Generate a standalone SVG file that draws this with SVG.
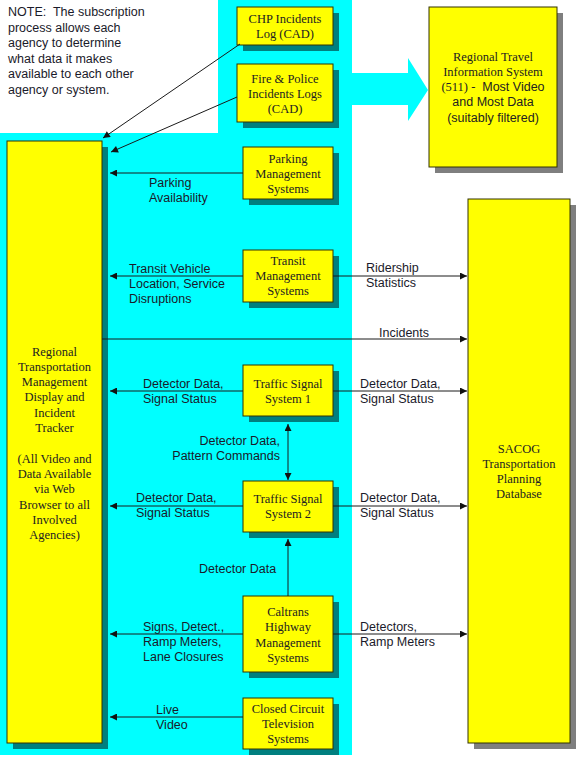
<svg xmlns="http://www.w3.org/2000/svg" width="576" height="768" viewBox="0 0 576 768">
<style>
.box{fill:#ffff00;stroke:#333300;stroke-width:1}
.sh{fill:#000;fill-opacity:0.5}
.bt{font-family:"Liberation Serif","Times New Roman",serif;font-size:12.5px;fill:#222;text-anchor:middle}
.st{font-family:"Liberation Sans",Arial,sans-serif;font-size:12.5px;fill:#1a1a2a}
.sm{font-family:"Liberation Sans",Arial,sans-serif;font-size:12.5px;fill:#222;text-anchor:middle}
.ln{stroke:#1a1a1a;stroke-width:1;fill:none}
.pre{white-space:pre}
</style>
<defs>
<marker id="ah" viewBox="0 0 10 10" refX="10" refY="5" markerWidth="8" markerHeight="7" markerUnits="userSpaceOnUse" orient="auto-start-reverse">
<path d="M0,0 L10,5 L0,10 z" fill="#111"/>
</marker>
</defs>
<rect width="576" height="768" fill="#fff"/>
<g id="background">
<polygon points="218,0 352,0 352,755 0,755 0,133 218,133" fill="#00ffff"/>
<polygon points="352,73 408,73 408,58 428,90 408,121 408,105 352,105" fill="#00ffff"/>
</g>
<g id="note">
<text class="st pre" x="8" y="16" xml:space="preserve">NOTE:  The subscription</text>
<text class="st" x="8" y="31.5">process allows each</text>
<text class="st" x="8" y="47">agency to determine</text>
<text class="st" x="8" y="62.5">what data it makes</text>
<text class="st" x="8" y="78">available to each other</text>
<text class="st" x="8" y="93.5">agency or system.</text>
</g>
<g id="rtmd">
<rect class="sh" x="13" y="147" width="95" height="602"/>
<rect class="box" x="7" y="141" width="95" height="602"/>
<text class="bt" x="54.5" y="355.5">Regional</text>
<text class="bt" x="54.5" y="370.8">Transportation</text>
<text class="bt" x="54.5" y="386.1">Management</text>
<text class="bt" x="54.5" y="401.4">Display and</text>
<text class="bt" x="54.5" y="416.7">Incident</text>
<text class="bt" x="54.5" y="432">Tracker</text>
<text class="bt" x="54.5" y="462.6">(All Video and</text>
<text class="bt" x="54.5" y="477.9">Data Available</text>
<text class="bt" x="54.5" y="493.2">via Web</text>
<text class="bt" x="54.5" y="508.5">Browser to all</text>
<text class="bt" x="54.5" y="523.8">Involved</text>
<text class="bt" x="54.5" y="539.1">Agencies)</text>
</g>
<g id="chp">
<rect class="sh" x="243" y="13" width="96" height="38"/>
<rect class="box" x="237" y="7" width="96" height="38"/>
<text class="bt" x="285" y="22.5">CHP Incidents</text>
<text class="bt" x="285" y="37.5">Log (CAD)</text>
</g>
<g id="fire">
<rect class="sh" x="243" y="70" width="96" height="58"/>
<rect class="box" x="237" y="64" width="96" height="58"/>
<text class="bt" x="285" y="82.5">Fire &amp; Police</text>
<text class="bt" x="285" y="97.5">Incidents Logs</text>
<text class="bt" x="285" y="112.5">(CAD)</text>
</g>
<g id="rtis">
<rect class="sh" x="435" y="13" width="128" height="160"/>
<rect class="box" x="429" y="7" width="128" height="160"/>
<text class="bt" x="493" y="60.5">Regional Travel</text>
<text class="bt" x="493" y="75.5">Information System</text>
<text class="sm pre" x="493" y="91" xml:space="preserve"><tspan font-family="Liberation Serif,serif">(511) -</tspan>  Most Video</text>
<text class="sm" x="493" y="106">and Most Data</text>
<text class="sm" x="493" y="121.5">(suitably filtered)</text>
</g>
<g id="parking">
<rect class="sh" x="249" y="153" width="90" height="52"/>
<rect class="box" x="243" y="147" width="90" height="52"/>
<text class="bt" x="288" y="163">Parking</text>
<text class="bt" x="288" y="178">Management</text>
<text class="bt" x="288" y="193">Systems</text>
</g>
<g id="transit">
<rect class="sh" x="249" y="256" width="90" height="52"/>
<rect class="box" x="243" y="250" width="90" height="52"/>
<text class="bt" x="288" y="265">Transit</text>
<text class="bt" x="288" y="280">Management</text>
<text class="bt" x="288" y="295">Systems</text>
</g>
<g id="tss1">
<rect class="sh" x="249" y="371" width="90" height="51"/>
<rect class="box" x="243" y="365" width="90" height="51"/>
<text class="bt" x="288" y="387.5">Traffic Signal</text>
<text class="bt" x="288" y="402.5">System 1</text>
</g>
<g id="tss2">
<rect class="sh" x="249" y="487" width="90" height="51"/>
<rect class="box" x="243" y="481" width="90" height="51"/>
<text class="bt" x="288" y="502.5">Traffic Signal</text>
<text class="bt" x="288" y="517.5">System 2</text>
</g>
<g id="caltrans">
<rect class="sh" x="249" y="602" width="90" height="76"/>
<rect class="box" x="243" y="596" width="90" height="76"/>
<text class="bt" x="288" y="615.5">Caltrans</text>
<text class="bt" x="288" y="631">Highway</text>
<text class="bt" x="288" y="646.5">Management</text>
<text class="bt" x="288" y="662">Systems</text>
</g>
<g id="cctv">
<rect class="sh" x="249" y="704" width="90" height="51"/>
<rect class="box" x="243" y="698" width="90" height="51"/>
<text class="bt" x="288" y="713">Closed Circuit</text>
<text class="bt" x="288" y="728">Television</text>
<text class="bt" x="288" y="743">Systems</text>
</g>
<g id="sacog">
<rect class="sh" x="474" y="205" width="102" height="544"/>
<rect class="box" x="468" y="199" width="102" height="544"/>
<text class="bt" x="519" y="452.5">SACOG</text>
<text class="bt" x="519" y="467.5">Transportation</text>
<text class="bt" x="519" y="482.5">Planning</text>
<text class="bt" x="519" y="497.5">Database</text>
</g>
<g id="connectors">
<line class="ln" x1="240" y1="44" x2="103" y2="138" marker-end="url(#ah)"/>
<line class="ln" x1="237" y1="97" x2="111" y2="152" marker-end="url(#ah)"/>
<line class="ln" x1="243" y1="173" x2="110" y2="173" marker-end="url(#ah)"/>
<line class="ln" x1="243" y1="276" x2="110" y2="276" marker-end="url(#ah)"/>
<line class="ln" x1="333" y1="276" x2="467" y2="276" marker-end="url(#ah)"/>
<line class="ln" x1="102" y1="339" x2="467" y2="339" marker-end="url(#ah)"/>
<line class="ln" x1="243" y1="391" x2="110" y2="391" marker-end="url(#ah)"/>
<line class="ln" x1="333" y1="391" x2="467" y2="391" marker-end="url(#ah)"/>
<line class="ln" x1="288" y1="424" x2="288" y2="480" marker-start="url(#ah)" marker-end="url(#ah)"/>
<line class="ln" x1="243" y1="506" x2="110" y2="506" marker-end="url(#ah)"/>
<line class="ln" x1="333" y1="506" x2="467" y2="506" marker-end="url(#ah)"/>
<line class="ln" x1="288" y1="596" x2="288" y2="539" marker-end="url(#ah)"/>
<line class="ln" x1="243" y1="634" x2="110" y2="634" marker-end="url(#ah)"/>
<line class="ln" x1="333" y1="634" x2="467" y2="634" marker-end="url(#ah)"/>
<line class="ln" x1="243" y1="717" x2="110" y2="717" marker-end="url(#ah)"/>
</g>
<g id="labels">
<text class="st" x="149" y="187">Parking</text>
<text class="st" x="149" y="202">Availability</text>
<text class="st" x="129" y="272.5">Transit Vehicle</text>
<text class="st" x="129" y="287.5">Location, Service</text>
<text class="st" x="129" y="302.5">Disruptions</text>
<text class="st" x="366" y="271.5">Ridership</text>
<text class="st" x="366" y="286.5">Statistics</text>
<text class="st" x="379" y="336.5">Incidents</text>
<text class="st" x="143" y="387.5">Detector Data,</text>
<text class="st" x="143" y="402.5">Signal Status</text>
<text class="st" x="360" y="387.5">Detector Data,</text>
<text class="st" x="360" y="402.5">Signal Status</text>
<text class="st" x="280" y="444.5" text-anchor="end">Detector Data,</text>
<text class="st" x="280" y="459.5" text-anchor="end">Pattern Commands</text>
<text class="st" x="136" y="502">Detector Data,</text>
<text class="st" x="136" y="517">Signal Status</text>
<text class="st" x="360" y="502">Detector Data,</text>
<text class="st" x="360" y="517">Signal Status</text>
<text class="st" x="199" y="572.5">Detector Data</text>
<text class="st" x="143" y="630.5">Signs, Detect.,</text>
<text class="st" x="143" y="645.5">Ramp Meters,</text>
<text class="st" x="143" y="660.5">Lane Closures</text>
<text class="st" x="360" y="630.5">Detectors,</text>
<text class="st" x="360" y="645.5">Ramp Meters</text>
<text class="st" x="156" y="713.5">Live</text>
<text class="st" x="156" y="728.5">Video</text>
</g>
</svg>
